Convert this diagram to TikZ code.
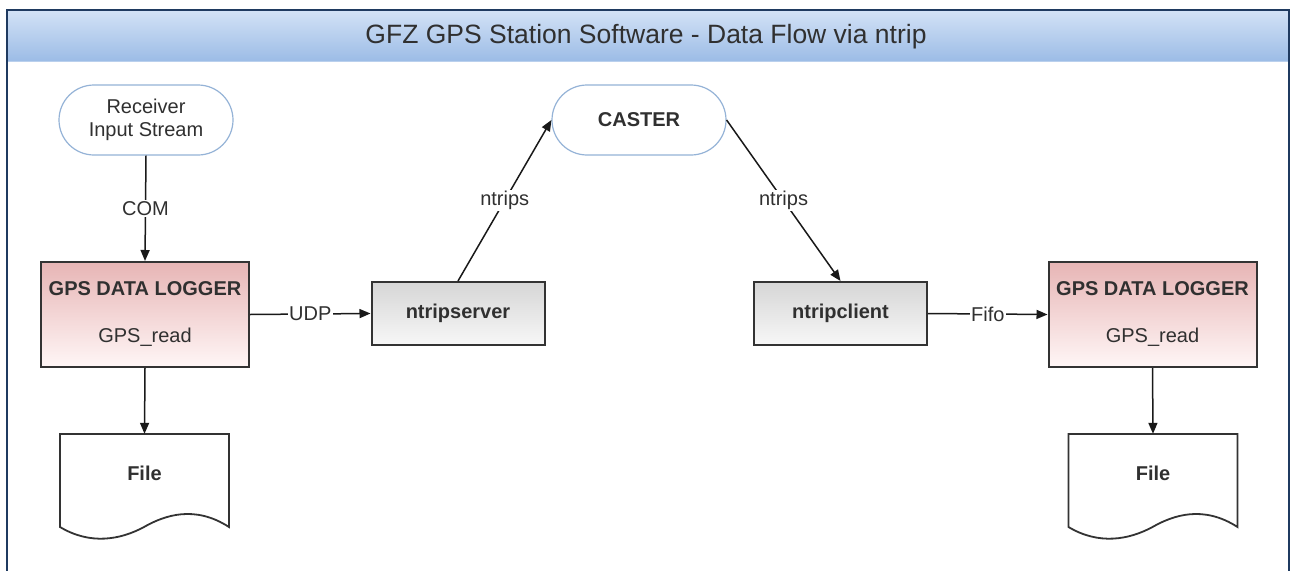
\documentclass[tikz,border=0pt]{standalone}
\usepackage{fontspec}
\setmainfont{Liberation Sans}
\usetikzlibrary{arrows.meta,shapes.misc}
\definecolor{frameblue}{HTML}{1F3A60}
\definecolor{headtop}{HTML}{D3E2F6}
\definecolor{headbot}{HTML}{9CBCE6}
\definecolor{ovalblue}{HTML}{95B3D7}
\definecolor{txtgray}{HTML}{303030}
\definecolor{logtop}{HTML}{E7B5B5}
\definecolor{logbot}{HTML}{FFF6F6}
\definecolor{graytop}{HTML}{D6D6D6}
\definecolor{graybot}{HTML}{F7F7F7}
\definecolor{edgegray}{HTML}{333333}
\tikzset{
  every node/.style={text=txtgray},
  bodyfont/.style={font=\fontsize{20}{23}\selectfont},
  boldfont/.style={font=\fontsize{20}{23}\selectfont\bfseries},
  terminal/.style={draw=ovalblue, line width=1.2pt, fill=white, rounded corners=35pt, minimum width=174pt, minimum height=70pt, align=center, inner sep=0pt},
  loggerbox/.style={draw=edgegray, line width=2pt, top color=logtop, bottom color=logbot, minimum width=208pt, minimum height=105pt, inner sep=0pt},
  procbox/.style={draw=edgegray, line width=2pt, top color=graytop, bottom color=graybot, minimum width=173pt, minimum height=63pt, inner sep=0pt, boldfont},
  filebox/.style={minimum width=169pt, minimum height=106pt, inner sep=0pt},
  docshape/.style={draw=edgegray, line width=1.8pt, fill=white},
  flow/.style={draw=black!90, line width=1.5pt, -{Triangle[length=11pt,width=9pt]}},
  flowlabel/.style={fill=white, inner sep=1.5pt, bodyfont}
}
\newcommand{\docpath}{%
  (-84.5,-53) -- (84.5,-53) -- (84.5,40)
  .. controls (50.5,18) and (20.5,28) .. (-0.5,40)
  .. controls (-24.5,53) and (-54.5,58) .. (-84.5,40) -- cycle}
\begin{document}
\begin{tikzpicture}[x=1pt,y=-1pt]
\useasboundingbox (0,0) rectangle (1292,570);
\fill[white] (0,0) rectangle (1292,570);
% frame and header
\shade[top color=headtop, bottom color=headbot] (7,10) rectangle (1289,61);
\draw[frameblue, line width=2pt] (7,575) -- (7,10) -- (1289,10) -- (1289,575);
\draw[headbot!70!white, line width=1pt] (8,61) -- (1288,61);
\node (title) at (646,37) {\fontsize{26.5}{29}\selectfont GFZ GPS Station Software - Data Flow via ntrip};

% nodes
\node[terminal, bodyfont] (recv) at (146,120) {Receiver\\Input Stream};
\node[terminal, boldfont] (caster) at (639,120) {CASTER};

\node[loggerbox] (log1) at (145,314.5) {};
\node[boldfont] (log1t) at (145,289) {GPS DATA LOGGER};
\node[bodyfont] (log1s) at (145,337) {GPS\_read};

\node[loggerbox] (log2) at (1152.5,314.5) {};
\node[boldfont] (log2t) at (1152.5,289) {GPS DATA LOGGER};
\node[bodyfont] (log2s) at (1152.5,337) {GPS\_read};

\node[procbox] (srv) at (458,313.5) {ntripserver};
\node[procbox] (cli) at (840.5,313.5) {ntripclient};

% file documents
\node[filebox] (file1) at (144.5,487) {};
\begin{scope}[shift={(file1.center)}]
  \draw[docshape] \docpath;
\end{scope}
\node[boldfont] (file1t) at (144.5,473) {File};

\node[filebox] (file2) at (1153,487) {};
\begin{scope}[shift={(file2.center)}]
  \draw[docshape] \docpath;
\end{scope}
\node[boldfont] (file2t) at (1153,473) {File};

% connectors
\draw[flow] (recv.south) -- node[flowlabel] (lcom) {COM} (log1.north);
\draw[flow] (log1.east) -- node[flowlabel] (ludp) {UDP} (srv.west);
\draw[flow] (srv.north) -- node[flowlabel] (lnt1) {ntrips} (caster.west);
\draw[flow] (caster.east) -- node[flowlabel] (lnt2) {ntrips} (cli.north);
\draw[flow] (cli.east) -- node[flowlabel] (lfifo) {Fifo} (log2.west);
\draw[flow] (log1.south) -- (file1.north);
\draw[flow] (log2.south) -- (file2.north);
\end{tikzpicture}
\end{document}
